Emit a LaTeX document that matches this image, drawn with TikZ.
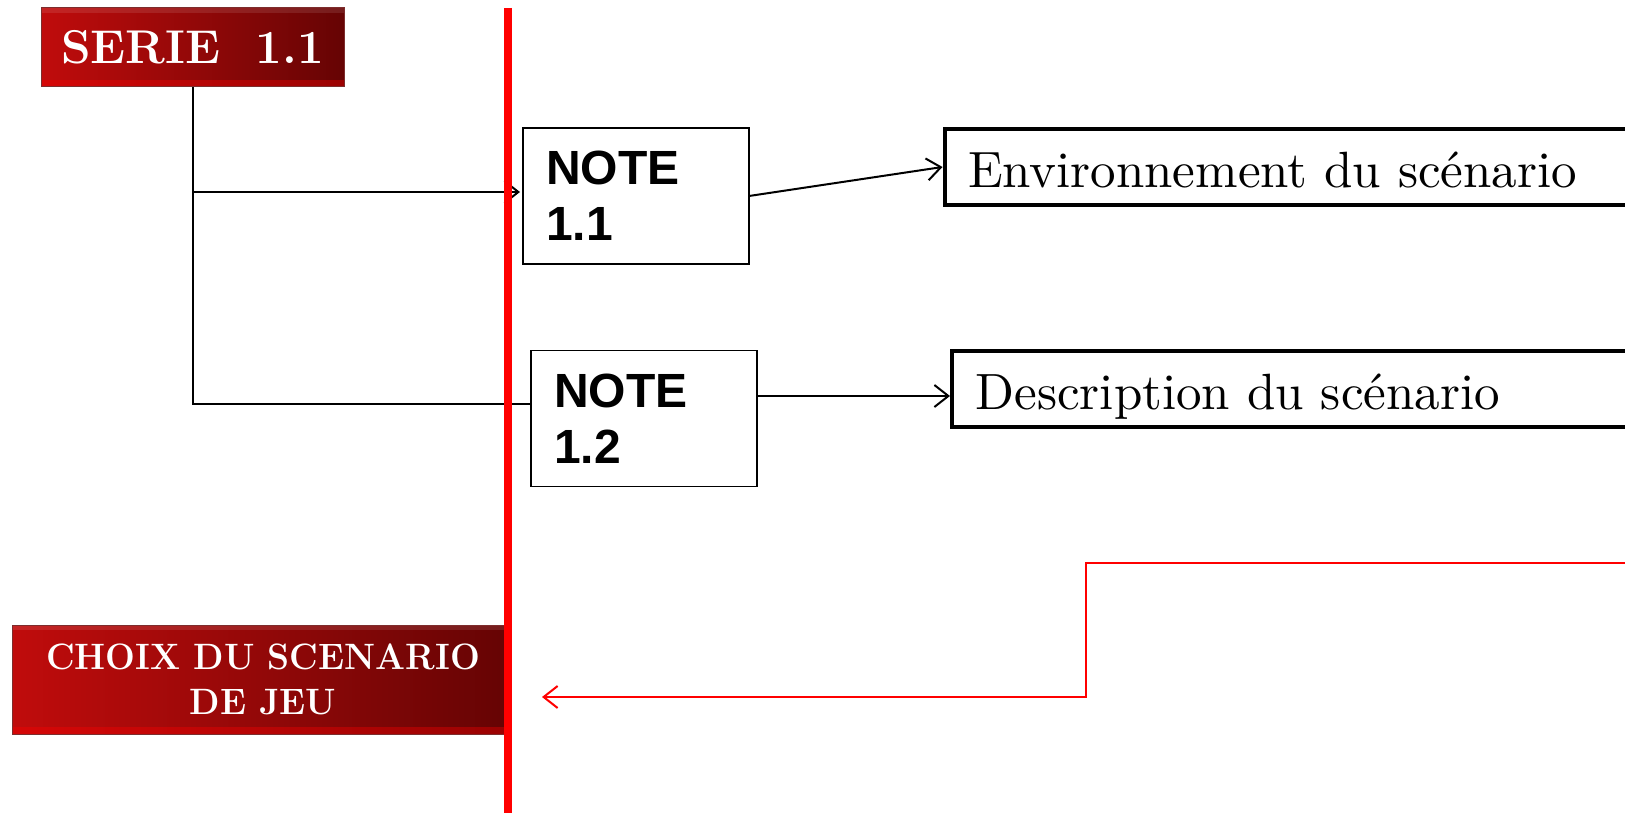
\documentclass[tikz,border=0pt]{standalone}
\usepackage{fontspec}
\usepackage{graphicx}
\usetikzlibrary{arrows.meta}
\newfontfamily\notefont{Liberation Sans}
\definecolor{badgelight}{RGB}{192,12,12}
\definecolor{badgedark}{RGB}{102,4,4}
\definecolor{badgeedge}{RGB}{125,45,45}
\definecolor{railred}{RGB}{255,0,0}
\newcommand\bigroman[1]{\scalebox{5.1}{\fontsize{10}{12}\selectfont #1}}
\begin{document}
\begin{tikzpicture}[x=1pt,y=-1pt,
  every node/.style={inner sep=0pt,outer sep=0pt},
  badge/.style={draw=badgeedge,line width=1pt,left color=badgelight,right color=badgedark,
    text=white,align=center,
    path picture={
      \fill[white,opacity=0.10] (path picture bounding box.north west) rectangle ([yshift=-5pt]path picture bounding box.north east);
      \fill[red,opacity=0.35] ([yshift=7pt]path picture bounding box.south west) rectangle (path picture bounding box.south east);
    }},
  badgetext/.style={text=white,align=center,font=\bfseries\fontsize{35.3}{45}\selectfont},
  notebox/.style={draw=black,line width=1.8pt,fill=white,minimum width=226pt,minimum height=136pt,
    text width=180pt,align=left,inner xsep=23pt,
    font=\notefont\bfseries\fontsize{48}{56}\selectfont},
  target/.style={draw=black,line width=4pt,fill=white,minimum height=76pt,
    text width=700pt,align=left,inner xsep=23.5pt,text height=41pt,text depth=0pt},
  conn/.style={line width=2pt,black},
  tip/.style={-{Straight Barb[length=14pt,width=22pt,line width=2pt]}},
  rail/.style={line width=8pt,railred},
  feedline/.style={line width=2pt,railred,-{Straight Barb[length=14pt,width=22pt,line width=2pt]}}
]
\useasboundingbox (0,0) rectangle (1625,813);
\clip (0,0) rectangle (1625,813);

% badges
\node[badge,minimum width=303pt,minimum height=79pt,font=\bfseries\fontsize{47.4}{50}\selectfont]
  (serie) at (192.5,47.5) {SERIE~~1.1};
\node[badge,minimum width=493pt,minimum height=109pt] (choix) at (258.5,679.5) {};
\node[badgetext] (choixlabel) at ([xshift=4.5pt]choix.center)
  {\scalebox{1}[1.04]{CHOIX DU SCENARIO}\\\scalebox{1}[1.04]{DE JEU}};

% notes
\node[notebox] (n11) at (636,196) {NOTE\\1.1};
\node[notebox] (n12) at (644,418.5) {NOTE\\1.2};

% targets
\node[target,anchor=west] (env) at (944.5,167) {\bigroman{Environnement du scénario}};
\node[target,anchor=west] (desc) at (952,388.5) {\bigroman{Description du scénario}};

% tree from the series badge
\draw[conn] (serie.south) |- ([yshift=14.5pt]n12.west);
\draw[conn,tip] (serie.south |- 0,192) -- ([xshift=-3pt,yshift=4pt]n11.west);

% note to target links
\draw[conn,tip] (n11.east) -- ([xshift=-2pt]env.west);
\draw[conn,tip] ([yshift=22.5pt]n12.east) -- ([xshift=-2pt,yshift=22.5pt]n12.east -| desc.west);

% red rail
\coordinate (railtop) at (508,8);
\coordinate (railbot) at (508,820);
\draw[rail] (railtop) -- (railbot);

% red return path
\coordinate (feed) at (1640,563);
\coordinate (elbow) at (1086,563);
\coordinate (backtip) at (542,697);
\draw[feedline] (feed) -- (elbow) |- (backtip);
\end{tikzpicture}
\end{document}
